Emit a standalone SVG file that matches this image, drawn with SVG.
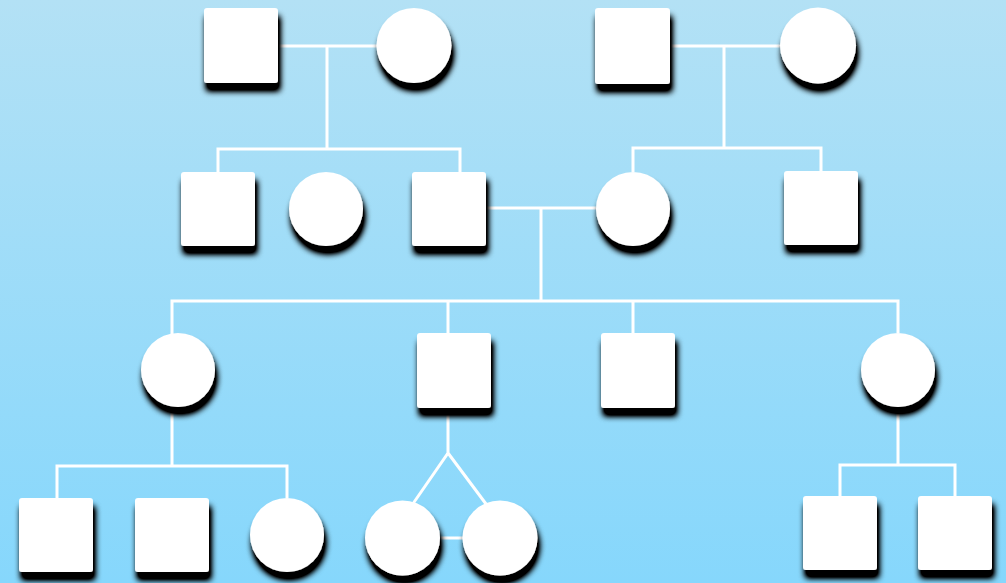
<svg xmlns="http://www.w3.org/2000/svg" width="1006" height="583" viewBox="0 0 1006 583">
<defs>
<linearGradient id="bg" x1="0" y1="0" x2="0" y2="1">
<stop offset="0" stop-color="#b3e1f5"/>
<stop offset="1" stop-color="#86d7fc"/>
</linearGradient>
<filter id="sh" x="-30%" y="-30%" width="160%" height="170%">
<feGaussianBlur in="SourceAlpha" stdDeviation="3"/>
<feOffset dx="2" dy="8" result="o"/>
<feComponentTransfer><feFuncA type="linear" slope="1.6"/></feComponentTransfer>
<feMerge><feMergeNode/><feMergeNode in="SourceGraphic"/></feMerge>
</filter>
</defs>
<style>
.m{fill:#fff;filter:url(#sh)}
.f{fill:#fff;filter:url(#sh)}
.c{fill:none;stroke:#fff;stroke-width:3}
</style>
<rect width="1006" height="583" fill="url(#bg)"/>
<g id="connectors" class="c">
<path d="M278 46H377M327 46V149M218 172V149H460V172"/>
<path d="M670 46H780M724 46V148M633 172V148H821V171"/>
<path d="M486 208H596M541 208V301M172 334V301H898V333M448 301V333M633 301V333"/>
<path d="M172 407V466M57 498V466H287V498"/>
<path d="M448 407V453L410 508M448 453L489 508M440 538H463"/>
<path d="M898 407V465M840 496V465H955V496"/>
</g>
<g id="g1-m1"><rect class="m" x="204" y="8" width="74" height="75" rx="3"/></g>
<g id="g1-f1"><circle class="f" cx="414" cy="45.5" r="37.5"/></g>
<g id="g1-m2"><rect class="m" x="595" y="8" width="75" height="76" rx="3"/></g>
<g id="g1-f2"><circle class="f" cx="818" cy="45.5" r="38"/></g>
<g id="g2-m1"><rect class="m" x="181" y="172" width="74" height="74" rx="3"/></g>
<g id="g2-f1"><circle class="f" cx="326" cy="209" r="37"/></g>
<g id="g2-m2"><rect class="m" x="412" y="172" width="74" height="74" rx="3"/></g>
<g id="g2-f2"><circle class="f" cx="633" cy="209" r="37"/></g>
<g id="g2-m3"><rect class="m" x="784" y="171" width="74" height="74" rx="3"/></g>
<g id="g3-f1"><circle class="f" cx="178" cy="370" r="37"/></g>
<g id="g3-m1"><rect class="m" x="417" y="333" width="74" height="75" rx="3"/></g>
<g id="g3-m2"><rect class="m" x="601" y="333" width="74" height="75" rx="3"/></g>
<g id="g3-f2"><circle class="f" cx="898" cy="370" r="37"/></g>
<g id="g4-m1"><rect class="m" x="19" y="498" width="74" height="74" rx="3"/></g>
<g id="g4-m2"><rect class="m" x="135" y="498" width="74" height="74" rx="3"/></g>
<g id="g4-f1"><circle class="f" cx="287" cy="535" r="37"/></g>
<g id="g4-f2"><circle class="f" cx="402.5" cy="538" r="37.5"/></g>
<g id="g4-f3"><circle class="f" cx="500" cy="538" r="37.5"/></g>
<g id="g4-m3"><rect class="m" x="803" y="496" width="74" height="74" rx="3"/></g>
<g id="g4-m4"><rect class="m" x="918" y="496" width="74" height="74" rx="3"/></g>
</svg>
